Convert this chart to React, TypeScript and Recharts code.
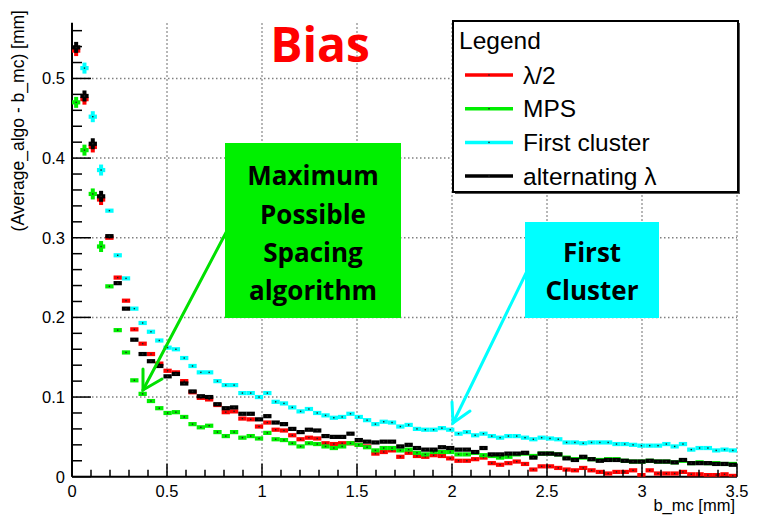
import React from 'react';
import { ComposedChart, Scatter, XAxis, YAxis, ReferenceLine } from 'recharts';

// ---------- data ----------
const N_BINS = 80;
const X_MAX = 3.5;
const binCenters: number[] = Array.from({ length: N_BINS }, (_, i) => ((i + 0.5) * X_MAX) / N_BINS);

// lambda/2 (red)
const lambdaHalf: number[] = [
  0.535, 0.474, 0.414, 0.348, 0.300, 0.250, 0.221, 0.185, 0.167, 0.154, 0.142, 0.133, 0.131, 0.120, 0.106, 0.099, 0.097, 0.090, 0.081, 0.082, 0.073, 0.072,
  0.063, 0.068, 0.059, 0.058, 0.052, 0.047, 0.049, 0.048, 0.042, 0.041, 0.042, 0.042, 0.040, 0.038, 0.029, 0.031, 0.033, 0.025, 0.030, 0.026, 0.025, 0.027, 0.026, 0.023, 0.020, 0.020, 0.022, 0.024, 0.017, 0.015, 0.017,
  0.019, 0.016, 0.009, 0.013, 0.013, 0.011, 0.009, 0.008, 0.011, 0.008, 0.006,
  0.004, 0.006, 0.006, 0.008, 0.002, 0.008, 0.004, 0.004, 0.004, 0.006, 0.003, 0.003, 0.002, 0.002, 0.003, 0.001,
];

// MPS (green)
const mps: number[] = [
  0.470, 0.410, 0.355, 0.289, 0.239, 0.184, 0.156, 0.121, 0.104, 0.095, 0.086, 0.080, 0.081, 0.075, 0.066, 0.062, 0.064, 0.056, 0.051, 0.056, 0.049, 0.051,
  0.048, 0.055, 0.047, 0.046, 0.042, 0.038, 0.042, 0.041, 0.038, 0.036, 0.038, 0.042, 0.040, 0.037, 0.033, 0.036, 0.036, 0.033, 0.034, 0.030, 0.028, 0.031, 0.031, 0.031, 0.028, 0.028, 0.030, 0.027, 0.026, 0.024, 0.025,
  0.028, 0.029, 0.026, 0.029, 0.029, 0.028, 0.024, 0.022, 0.024, 0.022, 0.021,
  0.022, 0.022, 0.020, 0.019, 0.019, 0.020, 0.019, 0.019, 0.018, 0.020, 0.017, 0.018, 0.017, 0.017, 0.016, 0.016,
];

// First cluster (cyan) - first bin is above the frame
const firstCluster: (number | null)[] = [
  null, 0.513, 0.452, 0.385, 0.334, 0.278, 0.249, 0.211, 0.193, 0.182, 0.171, 0.162, 0.160, 0.149, 0.139, 0.131, 0.131, 0.120, 0.115, 0.115, 0.105, 0.105,
  0.100, 0.105, 0.094, 0.092, 0.087, 0.082, 0.085, 0.080, 0.077, 0.074, 0.075, 0.079, 0.075, 0.071, 0.066, 0.069, 0.068, 0.063, 0.065, 0.060, 0.059, 0.059, 0.061, 0.059, 0.054, 0.056, 0.052, 0.054, 0.051, 0.049, 0.051,
  0.051, 0.049, 0.047, 0.049, 0.048, 0.047, 0.043, 0.043, 0.042, 0.043, 0.043,
  0.043, 0.041, 0.041, 0.040, 0.039, 0.039, 0.039, 0.041, 0.038, 0.041, 0.034, 0.036, 0.036, 0.033, 0.034, 0.033,
];

// alternating lambda (black)
const alternating: number[] = [
  0.539, 0.478, 0.418, 0.352, 0.302, 0.243, 0.211, 0.172, 0.154, 0.145, 0.139, 0.126, 0.129, 0.117, 0.107, 0.101, 0.100, 0.091, 0.086, 0.087, 0.079, 0.079,
  0.072, 0.076, 0.068, 0.066, 0.060, 0.056, 0.059, 0.058, 0.051, 0.050, 0.050, 0.054, 0.046, 0.044, 0.043, 0.044, 0.044, 0.038, 0.040, 0.036, 0.034, 0.034, 0.037, 0.036, 0.034, 0.034, 0.031, 0.036, 0.028, 0.028, 0.029,
  0.029, 0.030, 0.024, 0.029, 0.029, 0.028, 0.023, 0.021, 0.025, 0.022, 0.020,
  0.021, 0.021, 0.020, 0.019, 0.019, 0.020, 0.019, 0.019, 0.018, 0.021, 0.017, 0.017, 0.017, 0.016, 0.016, 0.015,
];

const xMajorTicks: number[] = [0, 0.5, 1, 1.5, 2, 2.5, 3, 3.5];
const xAllTicks: number[] = Array.from({ length: 36 }, (_, i) => i / 10);
const yMajorTicks: number[] = [0, 0.1, 0.2, 0.3, 0.4, 0.5];
const yAllTicks: number[] = Array.from({ length: 29 }, (_, i) => (i * 2) / 100);

const legendItems = [
  { label: 'λ/2', color: '#ff0000' },
  { label: 'MPS', color: '#00ee00' },
  { label: 'First cluster', color: '#00ffff' },
  { label: 'alternating λ', color: '#000000' },
];

// ---------- styles ----------
const FONT = "'Liberation Sans', Arial, Helvetica, sans-serif";
const ANNOT_FONT = "'Open Sans', Lato, sans-serif";
const BIN_PX = 8.3;

const toPoints = (vals: (number | null)[]) =>
  binCenters.map((x, i) => ({ x, y: vals[i] })).filter((p) => p.y != null);

const fmt = (v: number) => String(Math.round(v * 10) / 10);

function makeShape(color: string) {
  return (props: any) => {
    const { cx, cy, payload } = props;
    if (cx == null || cy == null || isNaN(cx) || isNaN(cy)) return <g />;
    const showErr = payload && payload.x < 0.17;
    return (
      <g>
        <rect x={cx - BIN_PX / 2} y={cy - 2.1} width={BIN_PX} height={4.2} fill={color} />
        {showErr && <rect x={cx - 2} y={cy - 5.5} width={4} height={11} fill={color} />}
        <rect x={cx - 0.7} y={cy - 0.7} width={1.4} height={1.4} fill="#222" />
      </g>
    );
  };
}

const XTick = (props: any) => {
  const { x, y, payload } = props;
  const v = payload.value;
  const major = Math.abs(v * 2 - Math.round(v * 2)) < 1e-6;
  return (
    <g>
      <line x1={x} x2={x} y1={y} y2={y - (major ? 13 : 7)} stroke="#000" strokeWidth={1.5} />
      {major && (
        <text x={x} y={y + 20} textAnchor="middle" fontSize={16.5} fontFamily={FONT} fill="#000">
          {fmt(v)}
        </text>
      )}
    </g>
  );
};

const YTick = (props: any) => {
  const { x, y, payload } = props;
  const v = payload.value;
  const major = Math.abs(v * 10 - Math.round(v * 10)) < 1e-6;
  return (
    <g>
      <line x1={x} x2={x + (major ? 19 : 10)} y1={y} y2={y} stroke="#000" strokeWidth={1.5} />
      {major && (
        <text x={x - 7} y={y + 6} textAnchor="end" fontSize={16.5} fontFamily={FONT} fill="#000">
          {fmt(v)}
        </text>
      )}
    </g>
  );
};

const gridStyle = { stroke: '#808080', strokeWidth: 1.5, strokeDasharray: '1.5 2.5' };

export default function App() {
  return (
    <div style={{ position: 'absolute', left: 0, top: 0, width: 759, height: 516, background: '#fff', overflow: 'hidden' }}>
      <ComposedChart
        width={759}
        height={516}
        margin={{ top: 22.7, right: 22, left: 0, bottom: 0 }}
      >
        <XAxis
          type="number"
          dataKey="x"
          domain={[0, 3.5]}
          ticks={xAllTicks}
          interval={0}
          tickSize={0}
          tickMargin={0}
          tickLine={false}
          tick={<XTick />}
          height={39.3}
          axisLine={{ stroke: '#000', strokeWidth: 2 }}
          allowDataOverflow
        />
        <YAxis
          type="number"
          dataKey="y"
          domain={[0, 0.57]}
          ticks={yAllTicks}
          interval={0}
          tickSize={0}
          tickMargin={0}
          tickLine={false}
          tick={<YTick />}
          width={72}
          axisLine={{ stroke: '#000', strokeWidth: 2 }}
          allowDataOverflow
        />
        {xMajorTicks.filter((v) => v > 0).map((v) => (
          <ReferenceLine key={'gx' + v} x={v} {...gridStyle} />
        ))}
        {yMajorTicks.filter((v) => v > 0).map((v) => (
          <ReferenceLine key={'gy' + v} y={v} {...gridStyle} />
        ))}
        <Scatter name="λ/2" data={toPoints(lambdaHalf)} fill="#ff0000" shape={makeShape('#ff0000')} isAnimationActive={false} />
        <Scatter name="MPS" data={toPoints(mps)} fill="#00ee00" shape={makeShape('#00ee00')} isAnimationActive={false} />
        <Scatter name="First cluster" data={toPoints(firstCluster)} fill="#00ffff" shape={makeShape('#00ffff')} isAnimationActive={false} />
        <Scatter name="alternating λ" data={toPoints(alternating)} fill="#000" shape={makeShape('#000000')} isAnimationActive={false} />
      </ComposedChart>

      <svg width={759} height={516} style={{ position: 'absolute', left: 0, top: 0, pointerEvents: 'none' }}>
        {/* axis titles */}
        <text
          x={24}
          y={10}
          transform="rotate(-90 24 10)"
          textAnchor="end"
          fontSize={17.5}
          fontFamily={FONT}
          fill="#000"
        >
          (Average_algo - b_mc) [mm]
        </text>
        <text x={735} y={511} textAnchor="end" fontSize={16.5} fontFamily={FONT} fill="#000">
          b_mc [mm]
        </text>

        {/* title */}
        <text x={320} y={62} textAnchor="middle" fontSize={48} fontWeight="bold" fontFamily={ANNOT_FONT} fill="#ff0000">
          Bias
        </text>

        {/* arrows */}
        <g stroke="#00e000" strokeWidth={3} strokeLinecap="round" fill="none">
          <line x1={230} y1={225} x2={143} y2={390} />
          <polyline points="143,369 143,390 162,379" />
        </g>
        <g stroke="#00ffff" strokeWidth={3} strokeLinecap="round" fill="none">
          <line x1={530} y1={265} x2={453} y2={423} />
          <polyline points="452,402 453,423 470,411" />
        </g>

        {/* green box */}
        <rect x={225} y={143} width={176} height={175} fill="#00f000" />
        <g fontFamily={ANNOT_FONT} fontWeight="bold" fontSize={26} fill="#000" textAnchor="middle">
          <text x={313} y={185}>Maximum</text>
          <text x={313} y={224}>Possible</text>
          <text x={313} y={262}>Spacing</text>
          <text x={313} y={300}>algorithm</text>
        </g>

        {/* cyan box */}
        <rect x={525} y={222} width={134} height={96} fill="#00ffff" />
        <g fontFamily={ANNOT_FONT} fontWeight="bold" fontSize={26} fill="#000" textAnchor="middle">
          <text x={592} y={262}>First</text>
          <text x={592} y={300}>Cluster</text>
        </g>

        {/* legend */}
        <rect x={455} y={23} width={285} height={171} fill="#555" />
        <rect x={453} y={21} width={285} height={171} fill="#fff" stroke="#000" strokeWidth={2} />
        <text x={459} y={49} fontSize={24.5} fontFamily={FONT} fill="#000">Legend</text>
        {legendItems.map((it, i) => {
          const cy = 75 + i * 33.7;
          return (
            <g key={it.label}>
              <line x1={465} x2={513} y1={cy} y2={cy} stroke={it.color} strokeWidth={3.5} />
              <rect x={488.3} y={cy - 0.7} width={1.4} height={1.4} fill="#222" />
              <text x={523} y={cy + 8.5} fontSize={24.5} fontFamily={FONT} fill="#000">
                {it.label}
              </text>
            </g>
          );
        })}
      </svg>
    </div>
  );
}
